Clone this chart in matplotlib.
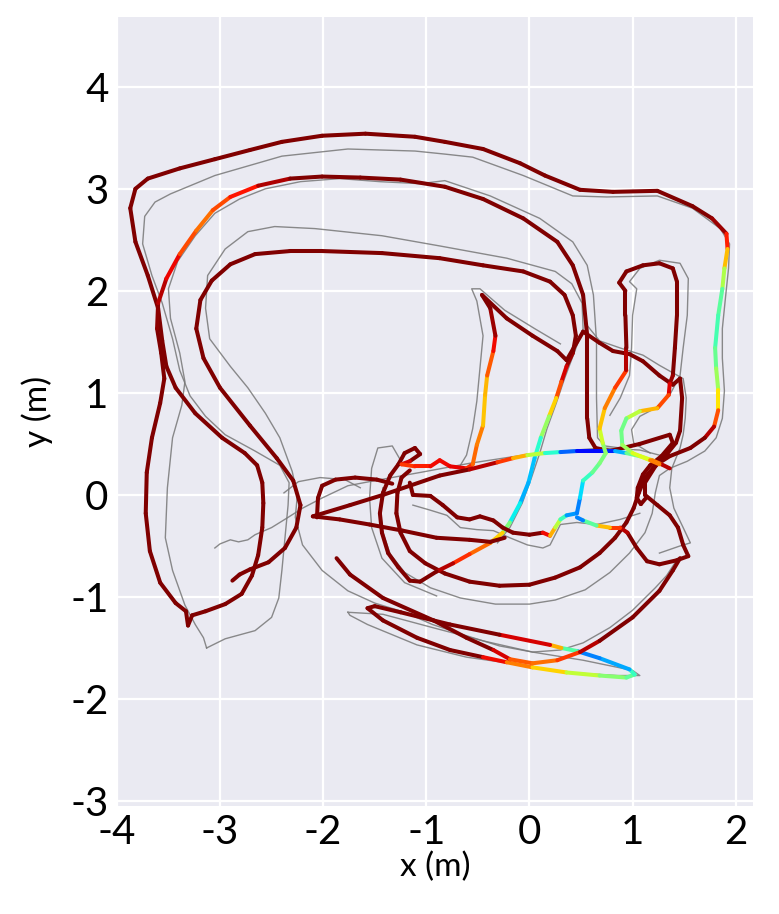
import numpy as np
import matplotlib.pyplot as plt
from matplotlib.collections import LineCollection

plt.rcParams['axes.unicode_minus'] = False
plt.rcParams['font.family'] = ['Lato', 'DejaVu Sans']

# estimated trajectory: (x m, y m, error on jet scale 0..1)
est_outer = [(-3.56, 1.51, 1), (-3.60, 1.83, 1), (-3.70, 2.15, 1), (-3.82, 2.48, 1), (-3.87, 2.81, 1),
             (-3.82, 3.00, 1), (-3.70, 3.10, 1), (-3.39, 3.20, 1), (-3.05, 3.29, 1), (-2.71, 3.38, 1),
             (-2.40, 3.46, 1), (-2.01, 3.52, 1), (-1.59, 3.54, 1), (-1.11, 3.51, 1), (-0.82, 3.46, 1),
             (-0.45, 3.39, 1), (-0.09, 3.25, 1), (0.15, 3.13, 1), (0.49, 2.99, 1), (0.81, 2.97, 1),
             (1.24, 2.98, 1), (1.58, 2.83, 1), (1.77, 2.71, 1), (1.91, 2.56, 0.95), (1.92, 2.41, 0.8),
             (1.89, 2.22, 0.62), (1.87, 2.02, 0.5), (1.83, 1.76, 0.42), (1.80, 1.44, 0.45),
             (1.81, 1.24, 0.5), (1.83, 1.03, 0.58), (1.83, 0.83, 0.75), (1.79, 0.67, 0.9),
             (1.70, 0.56, 1), (1.56, 0.46, 1), (1.36, 0.38, 1), (1.22, 0.29, 1), (1.12, 0.17, 1),
             (1.06, 0.02, 1), (1.01, -0.13, 1), (0.94, -0.27, 1), (0.83, -0.42, 1), (0.68, -0.57, 1),
             (0.49, -0.71, 1), (0.25, -0.81, 1), (0.00, -0.88, 1), (-0.29, -0.89, 1), (-0.58, -0.85, 1),
             (-0.82, -0.77, 1), (-1.01, -0.67, 1), (-1.16, -0.55, 1), (-1.25, -0.37, 1),
             (-1.29, -0.18, 1), (-1.28, 0.02, 1), (-1.24, 0.17, 1), (-1.16, 0.24, 1)]

est_second = [(-3.56, 1.51, 1), (-3.52, 1.26, 1), (-3.43, 1.05, 1), (-3.24, 0.80, 1), (-2.98, 0.56, 1),
              (-2.76, 0.41, 1), (-2.64, 0.29, 1), (-2.59, 0.12, 1), (-2.58, -0.08, 1), (-2.59, -0.32, 1),
              (-2.63, -0.59, 1), (-2.69, -0.79, 1), (-2.79, -0.97, 1), (-2.95, -1.07, 1),
              (-3.14, -1.14, 1), (-3.27, -1.18, 1), (-3.31, -1.28, 1), (-3.33, -1.14, 1),
              (-3.43, -1.06, 1), (-3.58, -0.86, 1), (-3.68, -0.55, 1), (-3.72, -0.18, 1),
              (-3.71, 0.22, 1), (-3.66, 0.56, 1), (-3.58, 0.90, 1), (-3.54, 1.14, 1), (-3.57, 1.39, 1),
              (-3.61, 1.63, 1), (-3.60, 1.88, 0.97), (-3.52, 2.12, 0.93), (-3.39, 2.36, 0.88),
              (-3.23, 2.59, 0.78), (-3.07, 2.79, 0.8), (-2.90, 2.92, 0.86), (-2.63, 3.03, 0.92),
              (-2.32, 3.10, 1), (-2.01, 3.12, 1), (-1.64, 3.11, 1), (-1.25, 3.09, 1), (-0.82, 3.02, 1),
              (-0.45, 2.90, 1), (-0.06, 2.71, 1), (0.27, 2.48, 1), (0.42, 2.25, 1), (0.52, 1.96, 1),
              (0.56, 1.56, 1), (0.56, 1.14, 1), (0.56, 0.75, 1), (0.58, 0.56, 1), (0.64, 0.46, 1),
              (0.78, 0.43, 1), (1.07, 0.50, 1), (1.36, 0.59, 1), (1.39, 0.51, 1), (1.28, 0.38, 1),
              (1.17, 0.29, 1), (1.10, 0.20, 1), (1.05, 0.07, 1), (1.04, -0.03, 1), (1.08, -0.09, 1),
              (1.13, -0.03, 1)]

est_inner = [(-2.88, -0.84, 1), (-2.81, -0.78, 1), (-2.71, -0.73, 1), (-2.53, -0.66, 1), (-2.37, -0.52, 1),
             (-2.26, -0.32, 1), (-2.22, -0.10, 1), (-2.29, 0.14, 1), (-2.45, 0.36, 1), (-2.71, 0.68, 1),
             (-3.00, 1.05, 1), (-3.16, 1.34, 1), (-3.23, 1.63, 1), (-3.19, 1.91, 1), (-3.08, 2.10, 1),
             (-2.90, 2.26, 1), (-2.66, 2.36, 1), (-2.32, 2.39, 1), (-2.01, 2.39, 1), (-1.43, 2.37, 1),
             (-0.87, 2.32, 1), (-0.45, 2.25, 1), (-0.06, 2.19, 1), (0.20, 2.09, 1), (0.34, 1.96, 1),
             (0.42, 1.76, 1), (0.45, 1.56, 1), (0.42, 1.39, 1), (0.36, 1.26, 0.95), (0.31, 1.11, 0.9),
             (0.26, 0.95, 0.75), (0.19, 0.77, 0.62), (0.11, 0.56, 0.45), (0.05, 0.36, 0.35),
             (-0.01, 0.12, 0.28), (-0.09, -0.08, 0.32), (-0.19, -0.27, 0.4), (-0.26, -0.37, 0.6),
             (-0.38, -0.47, 0.78), (-0.58, -0.58, 0.82), (-0.74, -0.67, 0.9), (-0.90, -0.75, 1),
             (-1.06, -0.85, 1), (-1.16, -0.84, 1), (-1.27, -0.71, 1), (-1.37, -0.57, 1),
             (-1.43, -0.37, 1), (-1.45, -0.18, 1), (-1.42, 0.02, 1), (-1.35, 0.19, 1), (-1.27, 0.30, 1),
             (-1.21, 0.41, 1), (-1.11, 0.46, 1), (-1.06, 0.40, 1), (-1.16, 0.33, 1), (-1.24, 0.30, 0.85),
             (-1.11, 0.28, 0.85), (-0.96, 0.28, 0.9), (-0.87, 0.34, 0.9), (-0.77, 0.28, 0.9),
             (-0.61, 0.26, 0.92), (-0.55, 0.30, 0.8), (-0.51, 0.49, 0.8), (-0.45, 0.68, 0.75),
             (-0.43, 0.98, 0.65), (-0.41, 1.17, 0.78), (-0.35, 1.41, 0.85), (-0.33, 1.56, 0.95),
             (-0.38, 1.83, 1), (-0.46, 1.96, 1), (-0.22, 1.73, 1), (0.03, 1.56, 1), (0.27, 1.41, 1),
             (0.36, 1.32, 1), (0.52, 1.60, 1), (0.68, 1.49, 1), (0.81, 1.41, 1), (0.97, 1.38, 1),
             (1.10, 1.31, 1), (1.26, 1.17, 1), (1.39, 1.08, 1), (1.46, 1.14, 1), (1.48, 0.95, 1),
             (1.46, 0.63, 1), (1.42, 0.51, 1), (1.34, 0.41, 1), (1.22, 0.28, 1), (1.12, 0.12, 1),
             (1.12, 0.00, 1), (1.24, -0.10, 1), (1.36, -0.20, 1), (1.44, -0.32, 1), (1.49, -0.49, 1),
             (1.54, -0.60, 1), (1.43, -0.64, 1), (1.26, -0.68, 1), (1.14, -0.65, 1), (1.04, -0.52, 1),
             (0.95, -0.37, 1), (0.88, -0.32, 0.9), (0.78, -0.32, 0.8), (0.65, -0.30, 0.62),
             (0.52, -0.25, 0.3), (0.46, -0.22, 0.2)]

est_cross = [(-2.10, -0.21, 1), (-1.74, -0.10, 1), (-1.42, 0.00, 1), (-1.16, 0.09, 1), (-0.87, 0.19, 1),
             (-0.58, 0.25, 1), (-0.31, 0.32, 0.9), (-0.16, 0.36, 0.8), (-0.02, 0.39, 0.65),
             (0.15, 0.41, 0.5), (0.30, 0.42, 0.3), (0.46, 0.43, 0.15), (0.71, 0.43, 0.12),
             (0.83, 0.43, 0.2), (0.94, 0.41, 0.4), (1.07, 0.38, 0.55), (1.19, 0.34, 0.65),
             (1.28, 0.30, 0.9), (1.36, 0.26, 1)]

est_low = [(-2.06, -0.22, 1), (-2.05, -0.03, 1), (-2.01, 0.09, 1), (-1.88, 0.15, 1), (-1.69, 0.17, 1),
           (-1.48, 0.15, 1), (-1.33, 0.11, 1)]

est_base = [(-2.10, -0.21, 1), (-1.84, -0.24, 1), (-1.55, -0.29, 1), (-1.23, -0.35, 1), (-0.90, -0.42, 1),
            (-0.58, -0.44, 1), (-0.38, -0.46, 1), (-0.24, -0.42, 1)]

est_flag = [(-1.16, 0.12, 1), (-1.13, 0.00, 1), (-0.96, -0.01, 1), (-0.84, -0.10, 1), (-0.70, -0.22, 1),
            (-0.58, -0.24, 1), (-0.48, -0.21, 1), (-0.35, -0.25, 1), (-0.26, -0.32, 1),
            (-0.16, -0.37, 1), (0.00, -0.39, 1), (0.13, -0.37, 1), (0.20, -0.40, 0.8),
            (0.25, -0.32, 0.65), (0.30, -0.24, 0.5), (0.36, -0.20, 0.35), (0.46, -0.18, 0.2),
            (0.49, -0.03, 0.3), (0.52, 0.14, 0.38), (0.61, 0.22, 0.45), (0.68, 0.31, 0.5),
            (0.74, 0.41, 0.5), (0.71, 0.51, 0.55), (0.68, 0.65, 0.65), (0.73, 0.85, 0.75),
            (0.83, 1.05, 0.8), (0.94, 1.22, 0.9), (0.94, 1.44, 1), (0.93, 1.76, 1), (0.93, 2.00, 1),
            (0.87, 2.08, 1), (0.94, 2.19, 1), (1.10, 2.25, 1), (1.26, 2.27, 1), (1.39, 2.22, 1),
            (1.43, 2.09, 1), (1.43, 1.76, 1), (1.41, 1.44, 1), (1.39, 1.17, 1), (1.36, 1.09, 0.95),
            (1.35, 0.98, 0.88), (1.24, 0.85, 0.78), (1.07, 0.82, 0.65), (0.94, 0.75, 0.5),
            (0.89, 0.63, 0.47), (0.90, 0.49, 0.5), (1.00, 0.41, 0.58), (1.17, 0.34, 0.65),
            (1.26, 0.30, 0.9)]

est_loop = [(-1.57, -1.11, 1), (-1.42, -1.23, 1), (-1.09, -1.40, 1), (-0.77, -1.52, 1), (-0.45, -1.59, 1),
            (-0.22, -1.64, 0.8), (0.03, -1.69, 0.75), (0.36, -1.74, 0.62), (0.68, -1.77, 0.55),
            (0.94, -1.79, 0.48), (1.02, -1.76, 0.45), (0.97, -1.71, 0.38), (0.68, -1.60, 0.2),
            (0.46, -1.53, 0.3), (0.31, -1.50, 0.6), (0.20, -1.47, 0.85), (-0.29, -1.37, 1),
            (-0.77, -1.27, 1), (-1.25, -1.15, 1), (-1.50, -1.09, 1), (-1.57, -1.11, 1)]

est_sweep = [(-1.87, -0.62, 1), (-1.74, -0.78, 1), (-1.42, -1.01, 1), (-0.93, -1.23, 1), (-0.61, -1.40, 1),
             (-0.35, -1.52, 1), (-0.19, -1.61, 0.85), (0.03, -1.65, 0.78), (0.27, -1.62, 0.8),
             (0.49, -1.54, 0.9), (0.68, -1.43, 1), (1.00, -1.20, 1), (1.26, -0.94, 1),
             (1.39, -0.74, 1), (1.46, -0.62, 1)]

# ground truth pieces (x m, y m)
gt_outer = [(-3.13, -1.50), (-2.95, -1.41), (-2.66, -1.33), (-2.50, -1.20), (-2.43, -1.01), (-2.40, -0.74),
            (-2.37, -0.42), (-2.34, -0.10), (-2.33, 0.12), (-2.42, 0.29), (-2.66, 0.43), (-2.95, 0.59),
            (-3.14, 0.77), (-3.29, 0.97), (-3.39, 1.22), (-3.46, 1.53), (-3.56, 1.88), (-3.66, 2.15),
            (-3.75, 2.46), (-3.73, 2.73), (-3.63, 2.87), (-3.48, 2.95), (-3.05, 3.13), (-2.40, 3.32),
            (-1.76, 3.39), (-1.11, 3.37), (-0.82, 3.34), (-0.55, 3.31), (-0.06, 3.13), (0.42, 2.93),
            (0.75, 2.92), (1.24, 2.93), (1.58, 2.81), (1.85, 2.61), (1.94, 2.46), (1.93, 2.22),
            (1.90, 1.93), (1.87, 1.63), (1.87, 1.34), (1.89, 1.02), (1.87, 0.75), (1.81, 0.56),
            (1.70, 0.43), (1.53, 0.33), (1.36, 0.26), (1.26, 0.19), (1.22, 0.02), (1.19, -0.18),
            (1.12, -0.37), (0.97, -0.57), (0.78, -0.76), (0.54, -0.93), (0.25, -1.03), (0.00, -1.07),
            (-0.33, -1.07), (-0.67, -1.01), (-0.96, -0.91), (-1.21, -0.76), (-1.35, -0.58),
            (-1.42, -0.37), (-1.45, -0.13), (-1.42, 0.07)]

gt_second = [(-3.13, -1.50), (-3.16, -1.40), (-3.24, -1.27), (-3.34, -1.08), (-3.46, -0.74), (-3.53, -0.42),
             (-3.51, 0.07), (-3.46, 0.56), (-3.37, 0.88), (-3.34, 1.11), (-3.39, 1.39), (-3.48, 1.73),
             (-3.50, 2.02), (-3.41, 2.29), (-3.24, 2.54), (-3.05, 2.76), (-2.81, 2.90), (-2.56, 3.00),
             (-2.22, 3.07), (-1.84, 3.10), (-1.45, 3.07), (-1.06, 3.05), (-0.82, 3.08), (-0.38, 2.93),
             (0.10, 2.71), (0.42, 2.48), (0.56, 2.25), (0.62, 1.96), (0.65, 1.51), (0.65, 0.95),
             (0.66, 0.56), (0.73, 0.48), (0.88, 0.46)]

gt_inner = [(-0.31, -0.47), (-0.19, -0.32), (-0.07, -0.08), (0.02, 0.17), (0.10, 0.41), (0.17, 0.65),
            (0.26, 0.90), (0.34, 1.14), (0.44, 1.41), (0.52, 1.63), (0.51, 1.88), (0.41, 2.07),
            (0.25, 2.19), (-0.22, 2.32), (-0.87, 2.44), (-1.43, 2.54), (-2.08, 2.61), (-2.47, 2.63),
            (-2.73, 2.58), (-2.95, 2.41), (-3.12, 2.15), (-3.14, 1.83), (-3.10, 1.53), (-2.90, 1.26),
            (-2.73, 1.05), (-2.56, 0.80), (-2.42, 0.56), (-2.30, 0.23), (-2.25, 0.00), (-2.27, -0.22),
            (-2.20, -0.49), (-2.01, -0.74), (-1.76, -0.94), (-1.50, -1.06), (-1.21, -1.15),
            (-0.94, -1.27), (-0.61, -1.38), (-0.29, -1.48), (0.03, -1.54), (0.30, -1.52),
            (0.52, -1.45), (0.78, -1.30), (1.00, -1.13), (1.22, -0.91), (1.33, -0.79), (1.44, -0.62)]

gt_loop = [(-1.76, -1.15), (-1.42, -1.17), (-0.94, -1.30), (-0.45, -1.43), (0.03, -1.54), (0.52, -1.62),
           (1.00, -1.72), (1.07, -1.77), (0.85, -1.77), (0.36, -1.74), (-0.12, -1.66), (-0.61, -1.59),
           (-1.09, -1.47), (-1.57, -1.27), (-1.74, -1.18), (-1.76, -1.15)]

gt_cross = [(-3.05, -0.52), (-3.00, -0.48), (-2.90, -0.44), (-2.82, -0.46), (-2.73, -0.44), (-2.66, -0.39),
            (-2.50, -0.32), (-2.34, -0.22), (-2.20, -0.13), (-2.01, -0.03), (-1.76, 0.09), (-1.50, 0.14),
            (-1.06, 0.22), (-0.58, 0.31), (0.07, 0.41), (0.71, 0.46), (1.07, 0.44), (1.26, 0.39)]

gt_low = [(-1.64, 0.07), (-1.79, 0.15), (-2.03, 0.17), (-2.24, 0.13), (-2.38, 0.02)]

gt_mid = [(-0.67, 0.29), (-0.61, 0.39), (-0.55, 0.65), (-0.51, 0.92), (-0.48, 1.24), (-0.45, 1.56),
          (-0.51, 1.90), (-0.56, 2.02), (-0.48, 2.02), (-0.24, 1.81), (0.05, 1.63), (0.30, 1.48)]

gt_flag = [(0.78, 0.78), (0.88, 0.95), (0.97, 1.17), (0.99, 1.44), (1.00, 1.76), (1.04, 2.02), (0.97, 2.09),
           (1.07, 2.22), (1.26, 2.30), (1.46, 2.27), (1.54, 2.12), (1.53, 1.76), (1.49, 1.44),
           (1.46, 1.17), (1.36, 0.98), (1.22, 0.85), (1.07, 0.77), (0.99, 0.64), (1.01, 0.51),
           (1.17, 0.41)]

gt_roof = [(0.56, 1.66), (0.68, 1.51), (0.88, 1.44), (1.10, 1.37), (1.26, 1.27), (1.49, 1.14), (1.52, 0.95),
           (1.51, 0.75), (1.49, 0.59), (1.46, 0.46), (1.38, 0.26), (1.36, 0.07), (1.40, -0.13),
           (1.49, -0.32), (1.56, -0.47), (1.46, -0.50), (1.26, -0.57)]

gt_wave = [(-1.13, -0.10), (-0.96, -0.15), (-0.80, -0.20), (-0.67, -0.32), (-0.51, -0.34), (-0.35, -0.35),
           (-0.19, -0.42), (-0.02, -0.49), (0.13, -0.52), (0.20, -0.49), (0.25, -0.39), (0.30, -0.29),
           (0.46, -0.27), (0.65, -0.29), (0.88, -0.24), (1.07, -0.18)]

gt_left = [(-1.25, 0.34), (-1.33, 0.48), (-1.47, 0.46), (-1.53, 0.26), (-1.55, -0.03), (-1.53, -0.32),
           (-1.43, -0.62), (-1.21, -0.86), (-0.90, -0.99)]

estimated = [est_outer, est_second, est_inner, est_cross, est_low, est_base, est_flag, est_loop, est_sweep]
ground_truth = [gt_outer, gt_second, gt_inner, gt_loop, gt_cross, gt_low, gt_mid, gt_flag, gt_roof,
                gt_wave, gt_left]

fig = plt.figure(figsize=(7.79, 9.14), dpi=100)
ax = fig.add_axes([0.150, 0.118, 0.817, 0.863])
ax.set_facecolor('#EAEAF2')
for s in ax.spines.values():
    s.set_visible(False)
ax.grid(True, color='white', linewidth=1.6)
ax.set_axisbelow(True)

for piece in ground_truth:
    p = np.array(piece)
    ax.plot(p[:, 0], p[:, 1], color='#777777', linewidth=1.0, alpha=0.85, zorder=2)

cmap = plt.get_cmap('jet')
for piece in estimated:
    p = np.array(piece, dtype=float)
    segs = np.stack([p[:-1, :2], p[1:, :2]], axis=1)
    err = (p[:-1, 2] + p[1:, 2]) / 2
    lc = LineCollection(segs, colors=cmap(err), linewidths=2.9, capstyle='round',
                        joinstyle='round', zorder=3)
    ax.add_collection(lc)

ax.set_xlim(-4.0, 2.17)
ax.set_ylim(-3.05, 4.68)
ax.set_xticks([-4, -3, -2, -1, 0, 1, 2])
ax.set_yticks([-3, -2, -1, 0, 1, 2, 3, 4])
ax.tick_params(length=0, labelsize=29, pad=6)
ax.set_xlabel('x (m)', fontsize=24, labelpad=0)
ax.set_ylabel('y (m)', fontsize=24, labelpad=12)

fig.savefig('out.png', dpi=100)
